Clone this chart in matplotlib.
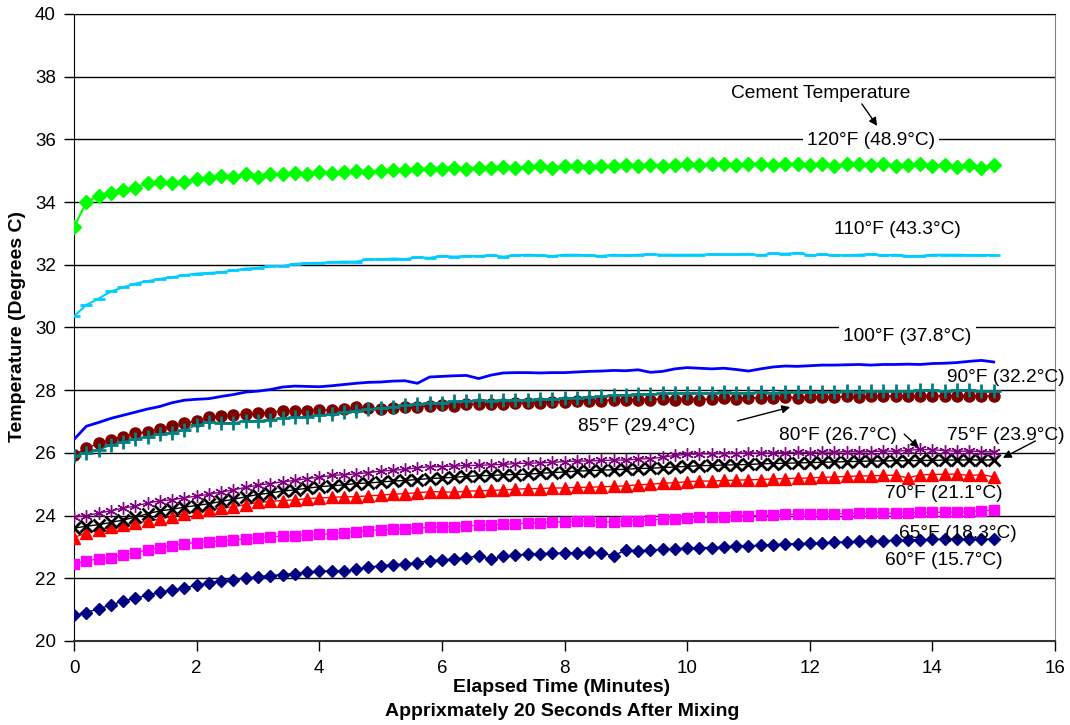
import numpy as np
import matplotlib.pyplot as plt

# sample times (minutes), logger recorded every 0.2 min here
minutes = np.round(np.arange(0, 15.01, 0.2), 1)

temp_120F = [33.2, 34.0, 34.2, 34.3, 34.4, 34.45, 34.6, 34.65, 34.62, 34.65,
             34.75, 34.78, 34.82, 34.8, 34.9, 34.8, 34.88, 34.9, 34.92, 34.9,
             34.97, 34.93, 34.95, 35.0, 34.97, 34.98, 35.02, 35.03, 35.05, 35.07,
             35.05, 35.1, 35.07, 35.1, 35.1, 35.12, 35.1, 35.13, 35.16, 35.1,
             35.14, 35.15, 35.13, 35.16, 35.15, 35.18, 35.15, 35.18, 35.16, 35.18,
             35.2, 35.18, 35.2, 35.22, 35.18, 35.2, 35.2, 35.17, 35.22, 35.2,
             35.18, 35.2, 35.15, 35.2, 35.22, 35.18, 35.2, 35.15, 35.17, 35.2,
             35.15, 35.18, 35.12, 35.17, 35.08, 35.17]
temp_110F = [30.36, 30.72, 30.92, 31.15, 31.28, 31.4, 31.48, 31.55, 31.6, 31.67,
             31.72, 31.74, 31.76, 31.82, 31.88, 31.9, 31.96, 31.96, 32.03, 32.05,
             32.06, 32.08, 32.1, 32.1, 32.17, 32.17, 32.2, 32.18, 32.24, 32.22,
             32.28, 32.26, 32.28, 32.28, 32.3, 32.26, 32.3, 32.32, 32.3, 32.28,
             32.32, 32.32, 32.3, 32.28, 32.32, 32.3, 32.32, 32.34, 32.32, 32.32,
             32.32, 32.32, 32.33, 32.33, 32.33, 32.35, 32.3, 32.36, 32.35, 32.38,
             32.3, 32.33, 32.3, 32.3, 32.32, 32.34, 32.3, 32.32, 32.28, 32.28,
             32.32, 32.32, 32.32, 32.31, 32.31, 32.31]
temp_100F = [26.43, 26.85, 26.97, 27.1, 27.2, 27.3, 27.4, 27.48, 27.6, 27.68,
             27.71, 27.73, 27.8, 27.86, 27.94, 27.97, 28.02, 28.1, 28.13, 28.12,
             28.11, 28.14, 28.18, 28.22, 28.25, 28.26, 28.29, 28.3, 28.22, 28.42,
             28.44, 28.46, 28.47, 28.37, 28.48, 28.55, 28.56, 28.56, 28.55, 28.56,
             28.56, 28.58, 28.6, 28.61, 28.63, 28.62, 28.65, 28.57, 28.6, 28.68,
             28.72, 28.7, 28.68, 28.7, 28.66, 28.61, 28.68, 28.74, 28.77, 28.76,
             28.78, 28.8, 28.8, 28.81, 28.82, 28.8, 28.82, 28.82, 28.83, 28.82,
             28.85, 28.86, 28.88, 28.92, 28.95, 28.9]
temp_90F = [25.9, 26.0, 26.1, 26.24, 26.35, 26.44, 26.52, 26.6, 26.65, 26.72,
            26.88, 26.98, 26.95, 26.96, 27.02, 27.03, 27.06, 27.1, 27.13, 27.16,
            27.2, 27.24, 27.3, 27.35, 27.4, 27.44, 27.47, 27.52, 27.56, 27.6,
            27.6, 27.64, 27.66, 27.68, 27.66, 27.69, 27.68, 27.7, 27.72, 27.72,
            27.74, 27.76, 27.78, 27.8, 27.84, 27.86, 27.87, 27.88, 27.9, 27.9,
            27.92, 27.9, 27.92, 27.93, 27.92, 27.92, 27.93, 27.92, 27.94, 27.93,
            27.95, 27.94, 27.95, 27.96, 27.95, 27.97, 27.96, 27.98, 27.97, 27.99,
            28.0, 27.98, 28.0, 28.01, 27.98, 27.97]
temp_85F = [25.93, 26.15, 26.3, 26.42, 26.52, 26.62, 26.68, 26.76, 26.85, 26.95,
            27.02, 27.13, 27.18, 27.2, 27.23, 27.27, 27.28, 27.35, 27.33, 27.35,
            27.36, 27.38, 27.4, 27.45, 27.42, 27.4, 27.43, 27.45, 27.47, 27.5,
            27.52, 27.5, 27.55, 27.55, 27.56, 27.55, 27.58, 27.6, 27.6, 27.62,
            27.63, 27.65, 27.64, 27.66, 27.7, 27.7, 27.68, 27.7, 27.72, 27.7,
            27.72, 27.7, 27.72, 27.74, 27.73, 27.75, 27.76, 27.74, 27.77, 27.76,
            27.78, 27.79, 27.77, 27.8, 27.79, 27.8, 27.81, 27.8, 27.82, 27.81,
            27.83, 27.82, 27.83, 27.8, 27.82, 27.8]
temp_80F = [23.95, 24.0, 24.08, 24.15, 24.24, 24.3, 24.4, 24.47, 24.5, 24.57,
            24.62, 24.68, 24.75, 24.82, 24.9, 24.97, 25.02, 25.08, 25.12, 25.18,
            25.22, 25.28, 25.3, 25.33, 25.37, 25.42, 25.44, 25.48, 25.52, 25.56,
            25.56, 25.58, 25.6, 25.6, 25.62, 25.63, 25.66, 25.67, 25.68, 25.7,
            25.72, 25.74, 25.74, 25.76, 25.77, 25.77, 25.8, 25.82, 25.86, 25.92,
            25.95, 25.97, 25.97, 25.98, 25.98, 26.0, 25.99, 26.0, 26.01, 26.02,
            26.01, 26.03, 26.02, 26.04, 26.03, 26.04, 26.06, 26.05, 26.08, 26.11,
            26.1, 26.07, 26.05, 26.06, 26.04, 26.03]
temp_75F = [23.6, 23.66, 23.71, 23.78, 23.86, 23.95, 24.06, 24.15, 24.2, 24.27,
            24.32, 24.38, 24.45, 24.52, 24.6, 24.67, 24.72, 24.78, 24.82, 24.87,
            24.92, 24.95, 24.98, 25.02, 25.04, 25.07, 25.1, 25.12, 25.15, 25.18,
            25.2, 25.22, 25.25, 25.27, 25.28, 25.3, 25.31, 25.32, 25.35, 25.37,
            25.39, 25.42, 25.43, 25.45, 25.46, 25.48, 25.5, 25.51, 25.53, 25.55,
            25.57, 25.59, 25.6, 25.61, 25.62, 25.63, 25.65, 25.66, 25.67, 25.68,
            25.69, 25.7, 25.71, 25.72, 25.73, 25.74, 25.74, 25.75, 25.75, 25.76,
            25.76, 25.77, 25.77, 25.78, 25.77, 25.78]
temp_70F = [23.3, 23.45, 23.55, 23.62, 23.7, 23.76, 23.82, 23.89, 23.97, 24.06,
            24.12, 24.18, 24.24, 24.28, 24.35, 24.42, 24.45, 24.48, 24.5, 24.54,
            24.56, 24.58, 24.6, 24.6, 24.63, 24.65, 24.68, 24.7, 24.73, 24.76,
            24.76, 24.74, 24.78, 24.79, 24.8, 24.82, 24.84, 24.86, 24.86, 24.88,
            24.88, 24.9, 24.9, 24.92, 24.93, 24.95, 24.98, 25.0, 25.03, 25.05,
            25.08, 25.1, 25.1, 25.12, 25.13, 25.14, 25.15, 25.17, 25.18, 25.19,
            25.2, 25.22, 25.23, 25.25, 25.26, 25.27, 25.28, 25.29, 25.2, 25.3,
            25.31, 25.32, 25.32, 25.28, 25.3, 25.24]
temp_65F = [22.46, 22.55, 22.62, 22.66, 22.74, 22.82, 22.9, 22.98, 23.04, 23.1,
            23.14, 23.16, 23.19, 23.22, 23.26, 23.3, 23.32, 23.34, 23.36, 23.38,
            23.4, 23.42, 23.45, 23.48, 23.52, 23.55, 23.56, 23.58, 23.6, 23.62,
            23.64, 23.65, 23.67, 23.69, 23.7, 23.72, 23.74, 23.76, 23.77, 23.79,
            23.8, 23.83, 23.82, 23.8, 23.8, 23.82, 23.84, 23.86, 23.88, 23.9,
            23.92, 23.94, 23.95, 23.97, 23.98, 24.0, 24.01, 24.02, 24.04, 24.04,
            24.05, 24.05, 24.06, 24.06, 24.07, 24.07, 24.08, 24.08, 24.09, 24.1,
            24.1, 24.11, 24.11, 24.13, 24.15, 24.18]
temp_60F = [20.82, 20.9, 21.03, 21.14, 21.28, 21.36, 21.46, 21.55, 21.62, 21.7,
            21.77, 21.85, 21.92, 21.96, 22.0, 22.05, 22.08, 22.12, 22.15, 22.2,
            22.22, 22.24, 22.22, 22.28, 22.35, 22.4, 22.43, 22.46, 22.5, 22.56,
            22.58, 22.62, 22.66, 22.72, 22.6, 22.7, 22.74, 22.77, 22.78, 22.8,
            22.8, 22.82, 22.84, 22.8, 22.72, 22.9, 22.88, 22.9, 22.92, 22.94,
            22.96, 22.98, 22.98, 23.0, 23.02, 23.04, 23.05, 23.07, 23.09, 23.1,
            23.12, 23.13, 23.15, 23.16, 23.18, 23.19, 23.2, 23.21, 23.22, 23.23,
            23.24, 23.25, 23.25, 23.24, 23.24, 23.25]

plt.rcParams['font.family'] = ['Liberation Sans', 'DejaVu Sans']

fig = plt.figure(figsize=(10.7, 7.25), dpi=100)
ax = fig.add_axes([0.0692, 0.1159, 0.9168, 0.8648])

# (values, colour, marker, marker size, line width)
series = [
    (temp_60F, '#000080', 'D', 6, 1),
    (temp_65F, '#FF00FF', 's', 7, 1),
    (temp_70F, '#FF0000', '^', 8, 1),
    (temp_75F, '#000000', 'x', 8, 1),
    (temp_80F, '#800080', (6, 2, 0), 9, 1),
    (temp_85F, '#800000', 'o', 8, 1),
    (temp_90F, '#008080', '+', 10, 1),
    (temp_100F, '#0000FF', None, 0, 2),
    (temp_110F, '#00CCFF', '_', 9, 1.5),
    (temp_120F, '#00FF00', 'D', 7, 1.5),
]
for vals, col, mk, ms, lw in series:
    ax.plot(minutes, vals, color=col, marker=mk, markersize=ms, lw=lw,
            mew=2 if mk in ('_', '+', 'x') else 1, zorder=3)

ax.set_xlim(0, 16)
ax.set_ylim(20, 40)
ax.set_xticks(range(0, 17, 2))
ax.set_yticks(range(20, 41, 2))
ax.yaxis.grid(True, color='black', lw=1)
ax.set_axisbelow(True)
ax.tick_params(axis='y', direction='out', length=7, width=1, pad=6, labelsize=13.5)
ax.tick_params(axis='x', direction='out', length=7, width=1, pad=7, labelsize=13.5)
ax.spines['left'].set_color('black')
ax.spines['bottom'].set_color('#333333')
ax.spines['bottom'].set_linewidth(1.5)
ax.spines['right'].set_color('#808080')
ax.spines['top'].set_color('black')

# curve labels
fs = 13.8
white = dict(facecolor='white', edgecolor='none', pad=3)
ax.text(12.17, 37.45, 'Cement Temperature', ha='center', va='center', fontsize=fs)
ax.text(13.0, 35.98, '120°F (48.9°C)', ha='center', va='center', fontsize=fs, bbox=white, zorder=2)
ax.text(13.43, 33.11, '110°F (43.3°C)', ha='center', va='center', fontsize=fs)
ax.text(13.59, 29.7, '100°F (37.8°C)', ha='center', va='center', fontsize=fs, bbox=white, zorder=2)
ax.text(15.19, 28.42, '90°F (32.2°C)', ha='center', va='center', fontsize=fs, zorder=4)
ax.text(9.17, 26.83, '85°F (29.4°C)', ha='center', va='center', fontsize=fs)
ax.text(12.46, 26.57, '80°F (26.7°C)', ha='center', va='center', fontsize=fs)
ax.text(15.2, 26.57, '75°F (23.9°C)', ha='center', va='center', fontsize=fs, zorder=4)
ax.text(14.18, 24.69, '70°F (21.1°C)', ha='center', va='center', fontsize=fs, zorder=4)
ax.text(14.42, 23.44, '65°F (18.3°C)', ha='center', va='center', fontsize=fs, zorder=4)
ax.text(14.18, 22.58, '60°F (15.7°C)', ha='center', va='center', fontsize=fs, zorder=4)

arrow = dict(arrowstyle='-|>', color='black', lw=1, mutation_scale=12, shrinkA=0, shrinkB=0)
ax.annotate('', xy=(13.1, 36.43), xytext=(12.85, 37.13), arrowprops=arrow, zorder=4)
ax.annotate('', xy=(11.68, 27.46), xytext=(10.82, 27.02), arrowprops=arrow, zorder=4)
ax.annotate('', xy=(13.78, 26.16), xytext=(13.54, 26.6), arrowprops=arrow, zorder=4)
ax.annotate('', xy=(15.15, 25.84), xytext=(15.68, 26.38), arrowprops=arrow, zorder=4,
            annotation_clip=False)

fig.text(18 / 1070, 1 - 327 / 725, 'Temperature (Degrees C)', rotation=90,
         ha='center', va='center', fontsize=14, fontweight='bold')
fig.text(562 / 1070, 1 - 688 / 725, 'Elapsed Time (Minutes)', ha='center', va='center',
         fontsize=14, fontweight='bold')
fig.text(562 / 1070, 1 - 712 / 725, 'Apprixmately 20 Seconds After Mixing', ha='center',
         va='center', fontsize=14, fontweight='bold')

fig.savefig('out.png', dpi=100)
